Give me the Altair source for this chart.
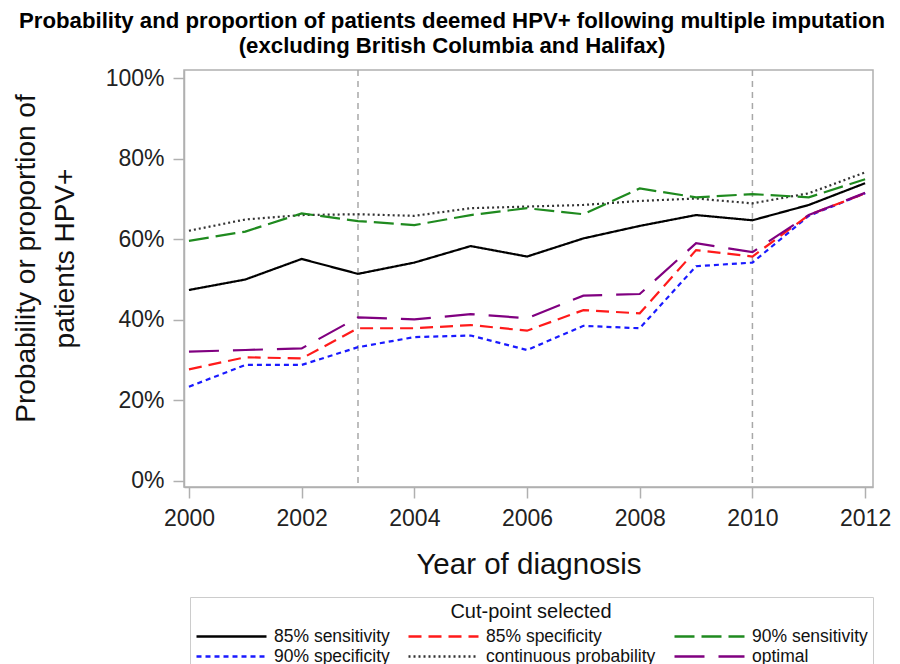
import altair as alt
import pandas as pd

years = [2000, 2001, 2002, 2003, 2004, 2005, 2006, 2007, 2008, 2009, 2010, 2011, 2012]
# legend order (Vega fills legend columns top-to-bottom)
series_names = ["85% sensitivity", "90% specificity", "85% specificity",
                "continuous probability", "90% sensitivity", "optimal"]
sens85 = [47.4, 50.0, 55.1, 51.4, 54.2, 58.3, 55.7, 60.2, 63.3, 66.0, 64.7, 68.5, 73.9]
spec90 = [23.4, 28.8, 28.8, 33.2, 35.7, 36.1, 32.5, 38.5, 37.9, 53.3, 54.2, 65.8, 71.4]
spec85 = [27.7, 30.7, 30.4, 37.9, 37.9, 38.7, 37.3, 42.4, 41.6, 57.3, 55.7, 66.0, 71.4]
contin = [62.1, 64.9, 66.0, 66.2, 65.8, 67.7, 68.1, 68.5, 69.5, 70.1, 68.9, 71.4, 76.6]
sens90 = [59.6, 61.9, 66.4, 64.5, 63.5, 66.0, 67.7, 66.2, 72.6, 70.4, 71.2, 70.4, 74.9]
optimal = [32.1, 32.5, 32.9, 40.6, 40.1, 41.4, 40.4, 46.0, 46.4, 59.0, 56.8, 66.0, 71.5]
ref_years = [2003, 2010]
x_ticks = [2000, 2002, 2004, 2006, 2008, 2010, 2012]
y_ticks = [0, 0.2, 0.4, 0.6, 0.8, 1.0]

colors = ["#000000", "#1a1aff", "#ff1a1a", "#333333", "#1f8a1f", "#800080"]
dashes = [[1, 0], [5, 4], [13, 7], [2, 3], [20, 7], [30, 14]]

all_vals = [sens85, spec90, spec85, contin, sens90, optimal]
rows = []
for name, vals in zip(series_names, all_vals):
    for yr, v in zip(years, vals):
        rows.append({"year": yr, "value": v / 100.0, "series": name})
df = pd.DataFrame(rows)
ref_df = pd.DataFrame({"year": ref_years})

xscale = alt.Scale(domain=[1999.912, 2012.14], nice=False, zero=False)
yscale = alt.Scale(domain=[-0.015, 1.02], nice=False, zero=False)

lines = alt.Chart(df).mark_line(strokeWidth=2.2).encode(
    x=alt.X("year:Q", scale=xscale,
            axis=alt.Axis(values=x_ticks, format="d", title="Year of diagnosis",
                          titleFontSize=29.5, titleFontWeight="normal",
                          titleY=86, titleBaseline="alphabetic")),
    y=alt.Y("value:Q", scale=yscale,
            axis=alt.Axis(values=y_ticks, format=".0%",
                          title=["Probability or proportion of", "patients HPV+"],
                          titleFontSize=28, titleFontWeight="normal",
                          titleAngle=270, titleX=-172, titleY=188,
                          titleBaseline="top", titleAlign="center",
                          titleLineHeight=39)),
    color=alt.Color("series:N", scale=alt.Scale(domain=series_names, range=colors),
                    title="Cut-point selected"),
    strokeDash=alt.StrokeDash("series:N", scale=alt.Scale(domain=series_names, range=dashes),
                              title="Cut-point selected"),
)

refs = alt.Chart(ref_df).mark_rule(color="#a8a8a8", strokeWidth=1.5, strokeDash=[6, 5]).encode(
    x=alt.X("year:Q", scale=xscale)
)

chart = alt.layer(refs, lines).properties(
    width=689,
    height=417,
    autosize=alt.AutoSizeParams(type="none"),
    padding={"left": 176, "top": 62, "right": 19, "bottom": 177},
    title=alt.TitleParams(
        ["Probability and proportion of patients deemed HPV+ following multiple imputation",
         "(excluding British Columbia and Halifax)"],
        font="Liberation Sans", fontSize=22.2, fontWeight="bold", color="#000000",
        lineHeight=25, anchor="middle", dx=-76.5, offset=10,
    ),
).configure_view(
    stroke="#b0b0b0", strokeWidth=1.5
).configure_axis(
    labelFont="Liberation Sans", titleFont="Liberation Sans",
    labelFontSize=23, labelColor="#222222", titleColor="#111111",
    tickSize=11, tickColor="#b0b0b0", domainColor="#b0b0b0", domainWidth=1.5,
    tickWidth=1.5, labelPadding=9, grid=False,
).configure_legend(
    orient="none", legendX=6, legendY=527,
    columns=3, symbolType="M-1,0L6,0", symbolSize=400, symbolStrokeWidth=2.5,
    labelFont="Liberation Sans", titleFont="Liberation Sans",
    labelFontSize=17.5, titleFontSize=20, titleFontWeight="normal",
    labelColor="#111111", titleColor="#111111",
    titleAnchor="middle", padding=5, strokeColor="#cccccc", fillColor="white",
    columnPadding=13, rowPadding=0, labelOffset=56, labelLimit=300, titlePadding=3,
)

chart.save("out.html", embed_options={"renderer": "svg", "actions": False})
